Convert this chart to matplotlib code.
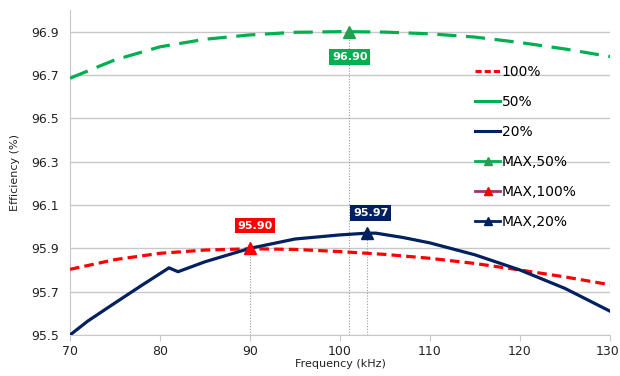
import matplotlib
matplotlib.use("Agg")
import matplotlib.pyplot as plt
import matplotlib.transforms as mtransforms
from matplotlib.lines import Line2D

# efficiency vs switching frequency, three load levels
freq_100 = [70, 75, 80, 85, 90, 95, 100, 105, 110, 115, 120, 125, 130]
eff_100 = [95.803, 95.848, 95.877, 95.892, 95.898, 95.895, 95.885, 95.872, 95.854, 95.830, 95.800, 95.768, 95.732]

freq_50 = [70, 75, 80, 85, 90, 95, 100, 101, 105, 110, 115, 120, 125, 130]
eff_50 = [96.685, 96.770, 96.830, 96.865, 96.885, 96.897, 96.900, 96.900, 96.898, 96.890, 96.875, 96.850, 96.820, 96.785]

freq_20 = [70, 72, 75, 78, 81, 82, 85, 90, 95, 100, 103, 104, 107, 110, 115, 120, 125, 130]
eff_20 = [95.500, 95.565, 95.648, 95.730, 95.810, 95.792, 95.838, 95.900, 95.943, 95.962, 95.970, 95.970, 95.950, 95.925, 95.870, 95.800, 95.715, 95.610]

# maximum points: (frequency, efficiency, label position)
max_50 = (101, 96.90)
max_100 = (90, 95.90)
max_20 = (103, 95.97)
max_labels = ["96.90", "95.90", "95.97"]
label_pos = [(101.1, 96.784), (90.55, 96.005), (103.4, 96.062)]

x_ticks = [70, 80, 90, 100, 110, 120, 130]
y_ticks = [95.5, 95.7, 95.9, 96.1, 96.3, 96.5, 96.7, 96.9]

RED = "#FF0000"
GREEN = "#00B050"
GREEN_MK = "#22A050"
NAVY = "#002060"
MAGENTA = "#A0306A"

plt.rcParams["font.family"] = ["DejaVu Sans"]

fig = plt.figure(figsize=(6.2, 3.76), dpi=100)
ax = fig.add_axes([70 / 620, 41 / 376, 540 / 620, 325 / 376])

ax.set_xlim(70, 130)
ax.set_ylim(95.5, 97.0)
ax.set_xticks(x_ticks)
ax.set_yticks(y_ticks)
ax.set_yticklabels([f"{v:.1f}" for v in y_ticks])
ax.grid(axis="y", color="#C8C8C8", linewidth=1)
ax.set_axisbelow(True)

for side in ["top", "right"]:
    ax.spines[side].set_visible(False)
for side in ["left", "bottom"]:
    ax.spines[side].set_color("#C8C8C8")
ax.tick_params(axis="y", length=0, labelsize=9, colors="#222222", pad=8)
ax.tick_params(axis="x", length=4, color="#C8C8C8", labelsize=9, colors="#222222", pad=3)

# keep the last x tick label inside the canvas
last = ax.get_xticklabels()[-1]
last.set_transform(last.get_transform() + mtransforms.ScaledTranslation(-2 / 72, 0, fig.dpi_scale_trans))

# drop lines under the maxima
for (fx, fy) in [max_50, max_100, max_20]:
    ax.plot([fx, fx], [95.5, fy], color="#9A9A9A", lw=0.8, ls=(0, (1, 1.5)), zorder=1)

ax.plot(freq_100, eff_100, color=RED, lw=2.3, dashes=(3, 1.6), zorder=3)
ax.plot(freq_50, eff_50, color=GREEN, lw=2.3, dashes=(6, 3), zorder=3)
ax.plot(freq_20, eff_20, color=NAVY, lw=2.3, zorder=3)

ax.plot(*max_50, marker="^", ms=9, color=GREEN_MK, zorder=4)
ax.plot(*max_100, marker="^", ms=9, color=RED, zorder=4)
ax.plot(*max_20, marker="^", ms=9, color=NAVY, zorder=4)

for txt, (lx, ly), c in zip(max_labels, label_pos, [GREEN, RED, NAVY]):
    ax.text(lx, ly, txt, ha="center", va="center", color="white", fontsize=8,
            fontweight="bold", zorder=5,
            bbox=dict(boxstyle="square,pad=0.25", facecolor=c, edgecolor="none"))

ax.set_xlabel("Frequency (kHz)", fontsize=8, color="#222222", labelpad=1)
ax.set_ylabel("Efficiency (%)", fontsize=8, color="#222222", labelpad=8)

handles = [
    Line2D([], [], color=RED, lw=2.2, dashes=(2, 1)),
    Line2D([], [], color=GREEN, lw=2.2),
    Line2D([], [], color=NAVY, lw=2.2),
    Line2D([], [], color=GREEN, lw=2, marker="^", ms=6, mfc=GREEN_MK, mec=GREEN_MK),
    Line2D([], [], color=MAGENTA, lw=2, marker="^", ms=6, mfc=RED, mec=RED),
    Line2D([], [], color=NAVY, lw=2, marker="^", ms=6, mfc=NAVY, mec=NAVY),
]
names = ["100%", "50%", "20%", "MAX,50%", "MAX,100%", "MAX,20%"]
ax.legend(handles, names, loc="upper left", bbox_to_anchor=(0.74, 0.848), frameon=False,
          fontsize=10, handlelength=1.8, handletextpad=0.1, labelspacing=1.15,
          borderaxespad=0)

fig.savefig("out.png", dpi=100)
